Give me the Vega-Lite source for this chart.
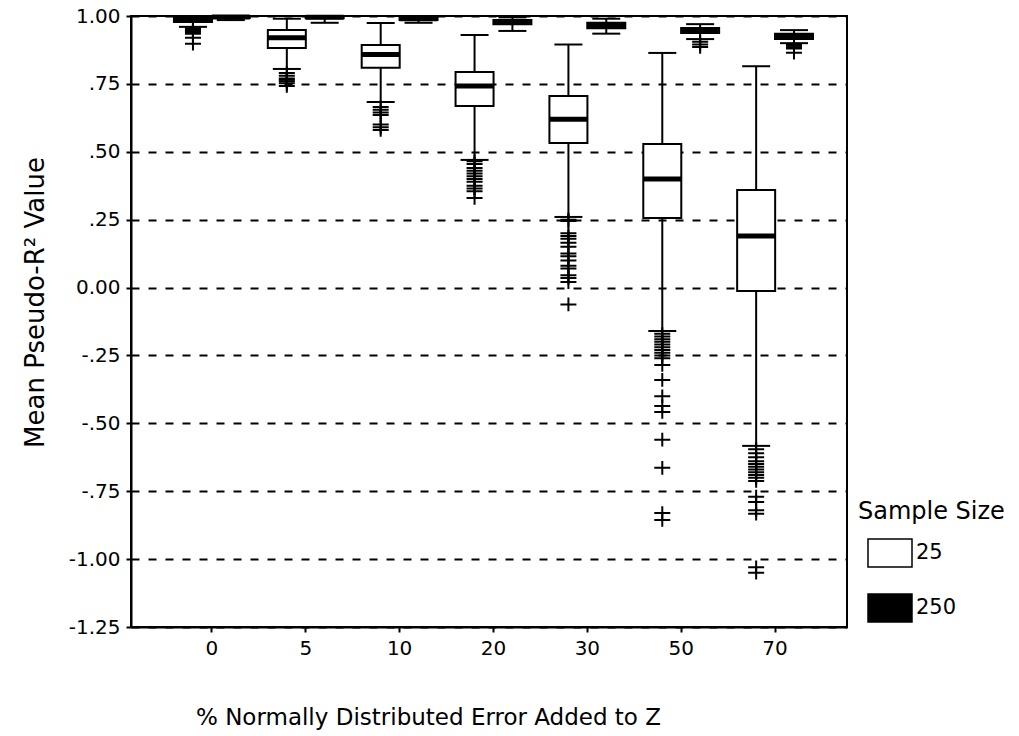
{
  "$schema": "https://vega.github.io/schema/vega-lite/v6.json",
  "width": 716,
  "height": 611,
  "autosize": {"type": "none"},
  "padding": {"left": 131, "top": 16, "right": 172, "bottom": 109},
  "background": "white",
  "config": {
    "font": "DejaVu Sans",
    "view": {"stroke": "black", "strokeWidth": 2},
    "axis": {
      "domainColor": "black", "domainWidth": 2,
      "tickColor": "black", "tickWidth": 2, "tickSize": 5,
      "labelColor": "black", "titleColor": "black",
      "labelFont": "DejaVu Sans", "titleFont": "DejaVu Sans",
      "labelFontSize": 20, "titleFontSize": 23, "titleFontWeight": "normal"
    },
    "legend": {
      "titleFont": "DejaVu Sans", "labelFont": "DejaVu Sans",
      "titleFontSize": 24, "titleFontWeight": "normal", "titleColor": "black",
      "labelFontSize": 21, "labelColor": "black"
    }
  },
  "datasets": {
    "boxes": [
      {"pct": "0", "n": "25", "lo": 0.96, "q1": 0.978, "med": 0.99, "q3": 0.999, "hi": 1.0},
      {"pct": "0", "n": "250", "lo": 0.985, "q1": 0.993, "med": 0.996, "q3": 0.999, "hi": 1.0},
      {"pct": "5", "n": "25", "lo": 0.805, "q1": 0.882, "med": 0.92, "q3": 0.948, "hi": 0.99},
      {"pct": "5", "n": "250", "lo": 0.975, "q1": 0.992, "med": 0.995, "q3": 0.998, "hi": 1.0},
      {"pct": "10", "n": "25", "lo": 0.683, "q1": 0.809, "med": 0.858, "q3": 0.893, "hi": 0.974},
      {"pct": "10", "n": "250", "lo": 0.975, "q1": 0.985, "med": 0.99, "q3": 0.995, "hi": 1.0},
      {"pct": "20", "n": "25", "lo": 0.47, "q1": 0.669, "med": 0.742, "q3": 0.794, "hi": 0.93},
      {"pct": "20", "n": "250", "lo": 0.945, "q1": 0.97, "med": 0.978, "q3": 0.985, "hi": 0.995},
      {"pct": "30", "n": "25", "lo": 0.26, "q1": 0.532, "med": 0.62, "q3": 0.705, "hi": 0.895},
      {"pct": "30", "n": "250", "lo": 0.935, "q1": 0.955, "med": 0.965, "q3": 0.975, "hi": 0.99},
      {"pct": "50", "n": "25", "lo": -0.16, "q1": 0.256, "med": 0.40, "q3": 0.529, "hi": 0.864},
      {"pct": "50", "n": "250", "lo": 0.915, "q1": 0.937, "med": 0.945, "q3": 0.956, "hi": 0.97},
      {"pct": "70", "n": "25", "lo": -0.583, "q1": -0.0125, "med": 0.19, "q3": 0.359, "hi": 0.815},
      {"pct": "70", "n": "250", "lo": 0.90, "q1": 0.915, "med": 0.925, "q3": 0.935, "hi": 0.948}
    ],
    "outliers": [
      {"pct": "0", "n": "25", "v": 0.955}, {"pct": "0", "n": "25", "v": 0.95}, {"pct": "0", "n": "25", "v": 0.945},
      {"pct": "0", "n": "25", "v": 0.94}, {"pct": "0", "n": "25", "v": 0.935}, {"pct": "0", "n": "25", "v": 0.92},
      {"pct": "0", "n": "25", "v": 0.898},
      {"pct": "5", "n": "25", "v": 0.79}, {"pct": "5", "n": "25", "v": 0.78}, {"pct": "5", "n": "25", "v": 0.77},
      {"pct": "5", "n": "25", "v": 0.765}, {"pct": "5", "n": "25", "v": 0.76}, {"pct": "5", "n": "25", "v": 0.752},
      {"pct": "5", "n": "25", "v": 0.742},
      {"pct": "10", "n": "25", "v": 0.665}, {"pct": "10", "n": "25", "v": 0.655}, {"pct": "10", "n": "25", "v": 0.645},
      {"pct": "10", "n": "25", "v": 0.635}, {"pct": "10", "n": "25", "v": 0.60}, {"pct": "10", "n": "25", "v": 0.59},
      {"pct": "10", "n": "25", "v": 0.58},
      {"pct": "20", "n": "25", "v": 0.465}, {"pct": "20", "n": "25", "v": 0.455}, {"pct": "20", "n": "25", "v": 0.44},
      {"pct": "20", "n": "25", "v": 0.43}, {"pct": "20", "n": "25", "v": 0.42}, {"pct": "20", "n": "25", "v": 0.41},
      {"pct": "20", "n": "25", "v": 0.40}, {"pct": "20", "n": "25", "v": 0.39}, {"pct": "20", "n": "25", "v": 0.375},
      {"pct": "20", "n": "25", "v": 0.365}, {"pct": "20", "n": "25", "v": 0.355}, {"pct": "20", "n": "25", "v": 0.33},
      {"pct": "30", "n": "25", "v": 0.25}, {"pct": "30", "n": "25", "v": 0.245}, {"pct": "30", "n": "25", "v": 0.20},
      {"pct": "30", "n": "25", "v": 0.19}, {"pct": "30", "n": "25", "v": 0.18}, {"pct": "30", "n": "25", "v": 0.165},
      {"pct": "30", "n": "25", "v": 0.15}, {"pct": "30", "n": "25", "v": 0.125}, {"pct": "30", "n": "25", "v": 0.115},
      {"pct": "30", "n": "25", "v": 0.10}, {"pct": "30", "n": "25", "v": 0.08}, {"pct": "30", "n": "25", "v": 0.07},
      {"pct": "30", "n": "25", "v": 0.045}, {"pct": "30", "n": "25", "v": 0.035}, {"pct": "30", "n": "25", "v": 0.02},
      {"pct": "30", "n": "25", "v": -0.062},
      {"pct": "50", "n": "25", "v": -0.17}, {"pct": "50", "n": "25", "v": -0.18}, {"pct": "50", "n": "25", "v": -0.19},
      {"pct": "50", "n": "25", "v": -0.20}, {"pct": "50", "n": "25", "v": -0.21}, {"pct": "50", "n": "25", "v": -0.22},
      {"pct": "50", "n": "25", "v": -0.23}, {"pct": "50", "n": "25", "v": -0.24}, {"pct": "50", "n": "25", "v": -0.25},
      {"pct": "50", "n": "25", "v": -0.26}, {"pct": "50", "n": "25", "v": -0.285}, {"pct": "50", "n": "25", "v": -0.34},
      {"pct": "50", "n": "25", "v": -0.40}, {"pct": "50", "n": "25", "v": -0.436}, {"pct": "50", "n": "25", "v": -0.458},
      {"pct": "50", "n": "25", "v": -0.56}, {"pct": "50", "n": "25", "v": -0.664}, {"pct": "50", "n": "25", "v": -0.83},
      {"pct": "50", "n": "25", "v": -0.856},
      {"pct": "50", "n": "250", "v": 0.905}, {"pct": "50", "n": "250", "v": 0.895}, {"pct": "50", "n": "250", "v": 0.886},
      {"pct": "70", "n": "25", "v": -0.595}, {"pct": "70", "n": "25", "v": -0.61}, {"pct": "70", "n": "25", "v": -0.625},
      {"pct": "70", "n": "25", "v": -0.64}, {"pct": "70", "n": "25", "v": -0.65}, {"pct": "70", "n": "25", "v": -0.66},
      {"pct": "70", "n": "25", "v": -0.67}, {"pct": "70", "n": "25", "v": -0.68}, {"pct": "70", "n": "25", "v": -0.69},
      {"pct": "70", "n": "25", "v": -0.70}, {"pct": "70", "n": "25", "v": -0.712}, {"pct": "70", "n": "25", "v": -0.77},
      {"pct": "70", "n": "25", "v": -0.79}, {"pct": "70", "n": "25", "v": -0.82}, {"pct": "70", "n": "25", "v": -0.833},
      {"pct": "70", "n": "25", "v": -1.03}, {"pct": "70", "n": "25", "v": -1.05},
      {"pct": "70", "n": "250", "v": 0.895}, {"pct": "70", "n": "250", "v": 0.89}, {"pct": "70", "n": "250", "v": 0.885},
      {"pct": "70", "n": "250", "v": 0.88}, {"pct": "70", "n": "250", "v": 0.865}
    ]
  },
  "encoding": {
    "x": {
      "field": "pct", "type": "nominal",
      "sort": ["0", "5", "10", "20", "30", "50", "70"],
      "scale": {"paddingInner": 0, "paddingOuter": 0.314, "align": 0.576},
      "axis": {
        "title": "% Normally Distributed Error Added to Z",
        "labelAngle": 0, "labelPadding": 6, "titlePadding": 48, "grid": false,
        "titleX": 297
      }
    },
    "xOffset": {
      "field": "n", "type": "nominal",
      "scale": {"domain": ["25", "250"], "paddingInner": 0, "paddingOuter": 0.24}
    }
  },
  "layer": [
    {
      "data": {"name": "boxes"},
      "mark": {"type": "rule", "color": "black", "strokeWidth": 2},
      "encoding": {
        "y": {
          "field": "lo", "type": "quantitative",
          "scale": {"domain": [-1.25, 1], "nice": false, "zero": false},
          "axis": {
            "title": "Mean Pseudo-R² Value",
            "values": [-1.25, -1, -0.75, -0.5, -0.25, 0, 0.25, 0.5, 0.75, 1],
            "labelExpr": "datum.value == 0 ? '0.00' : replace(replace(format(datum.value, '.2f'), '\u2212', '-'), '0.', '.')",
            "grid": true, "gridColor": "black", "gridDash": [8, 9], "gridWidth": 1.8, "gridOpacity": 1,
            "labelPadding": 6, "titlePadding": 20, "titleFontSize": 26, "titleY": 286
          }
        },
        "y2": {"field": "hi"}
      }
    },
    {
      "data": {"name": "boxes"},
      "mark": {"type": "tick", "color": "black", "thickness": 2, "size": 28, "opacity": 1},
      "encoding": {"y": {"field": "lo", "type": "quantitative"}}
    },
    {
      "data": {"name": "boxes"},
      "mark": {"type": "tick", "color": "black", "thickness": 2, "size": 28, "opacity": 1},
      "encoding": {"y": {"field": "hi", "type": "quantitative"}}
    },
    {
      "data": {"name": "boxes"},
      "mark": {"type": "bar", "stroke": "black", "strokeWidth": 2, "size": 38, "opacity": 1},
      "encoding": {
        "y": {"field": "q1", "type": "quantitative"},
        "y2": {"field": "q3"},
        "fill": {
          "field": "n", "type": "nominal",
          "scale": {"domain": ["25", "250"], "range": ["white", "black"]},
          "legend": {
            "title": "Sample Size",
            "orient": "none", "legendX": 727, "legendY": 484,
            "symbolType": "M-1,-0.64H1V0.64H-1Z", "symbolSize": 1936,
            "symbolStrokeColor": "black", "symbolStrokeWidth": 1.5,
            "symbolOffset": 9, "labelOffset": 3,
            "rowPadding": 14, "titlePadding": 6, "padding": 0
          }
        }
      }
    },
    {
      "data": {"name": "boxes"},
      "mark": {"type": "tick", "color": "black", "thickness": 5, "size": 38, "opacity": 1},
      "encoding": {"y": {"field": "med", "type": "quantitative"}}
    },
    {
      "data": {"name": "outliers"},
      "mark": {"type": "point", "shape": "M-1,0H1M0,-0.85V0.85", "size": 256, "stroke": "black", "strokeWidth": 2, "filled": false, "opacity": 1},
      "encoding": {"y": {"field": "v", "type": "quantitative"}}
    }
  ]
}
